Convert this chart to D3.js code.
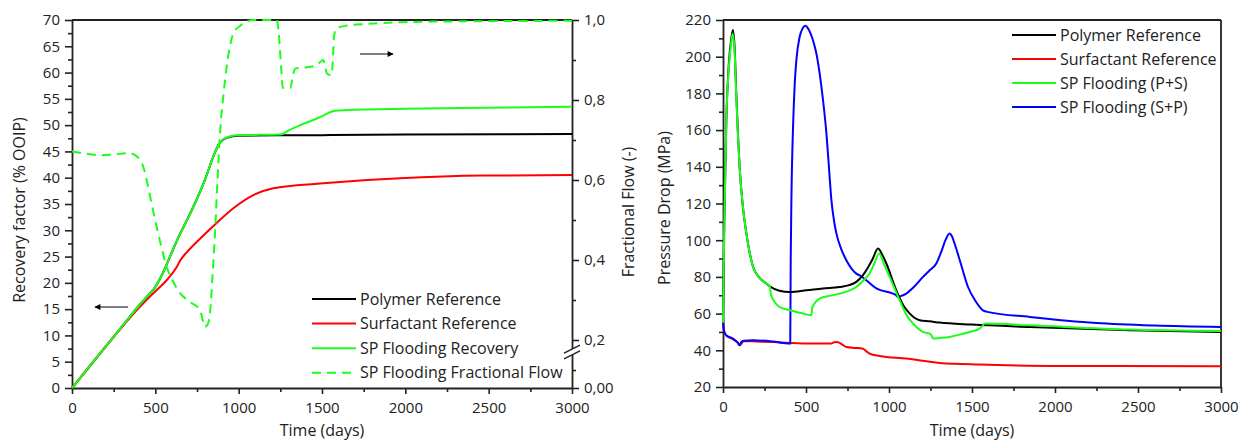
<!DOCTYPE html>
<html><head><meta charset="utf-8">
<script src="https://cdn.jsdelivr.net/npm/d3@7"></script>
<style>
body{margin:0;background:#fff;}
text{font-family:"Open Sans",sans-serif;fill:#222;}
</style></head>
<body><svg id="c" width="1239" height="442"></svg>
<script>
// ---------- DATA ----------
const xTicks = [0,500,1000,1500,2000,2500,3000];
const recTicks = [0,5,10,15,20,25,30,35,40,45,50,55,60,65,70];
const ffTicks = [0.2,0.4,0.6,0.8,1.0];
const ffTickLabels = ["0,2","0,4","0,6","0,8","1,0"];
const ffZeroLabel = "0,00";
const dpTicks = [20,40,60,80,100,120,140,160,180,200,220];

const leftLegend = ["Polymer Reference","Surfactant Reference","SP Flooding Recovery","SP Flooding Fractional Flow"];
const rightLegend = ["Polymer Reference","Surfactant Reference","SP Flooding (P+S)","SP Flooding (S+P)"];

// Recovery factor (% OOIP) vs days
const polymerRecovery = [[0,0],[100,3.9],[200,7.8],[300,11.7],[400,15.6],[450,17.4],[500,19.2],[550,22.2],[600,25.9],[650,29.4],[700,32.6],[750,36],[800,39.8],[850,44.2],[880,46.3],[910,47.3],[950,47.8],[1000,48.0],[1500,48.1],[2000,48.2],[3000,48.3]];
const surfactantRecovery = [[0,0],[100,3.9],[200,7.8],[300,11.6],[400,15.2],[500,18.4],[568,20.5],[628,23.0],[650,24.3],[688,25.8],[768,28.4],[868,31.4],[968,34.2],[1088,36.7],[1208,38.0],[1488,38.9],[1568,39.1],[1968,39.9],[2468,40.4],[3000,40.5]];
const spRecovery = [[0,0],[100,3.9],[200,7.8],[300,11.7],[400,15.6],[450,17.4],[500,19.2],[550,22.2],[600,25.9],[650,29.4],[700,32.6],[750,36],[800,39.8],[850,44.2],[880,46.3],[910,47.3],[950,47.9],[1000,48.1],[1250,48.2],[1300,49.0],[1370,50.0],[1450,51.0],[1500,51.7],[1570,52.7],[1600,52.8],[2000,53.1],[2500,53.3],[3000,53.5]];
// Fractional flow (-) vs days
const spFracFlow = [[0,0.671],[100,0.665],[168,0.662],[250,0.664],[348,0.667],[380,0.662],[408,0.65],[430,0.63],[448,0.60],[478,0.54],[508,0.483],[538,0.43],[568,0.383],[608,0.345],[648,0.317],[708,0.295],[768,0.275],[798,0.233],[815,0.24],[828,0.267],[843,0.36],[858,0.467],[873,0.6],[888,0.717],[908,0.81],[928,0.883],[948,0.935],[968,0.967],[1008,0.985],[1048,0.996],[1088,1.0],[1228,1.0],[1240,0.97],[1255,0.88],[1265,0.83],[1310,0.83],[1325,0.86],[1340,0.879],[1400,0.881],[1468,0.887],[1508,0.9],[1520,0.88],[1530,0.866],[1558,0.862],[1565,0.9],[1572,0.96],[1590,0.98],[1650,0.986],[1768,0.99],[2168,0.996],[3000,0.998]];

// Pressure drop (MPa) vs days
const polymerDP = [[0,55],[8,110],[20,165],[35,196],[50,210],[60,214.5],[70,205],[80,180],[90,158],[100,140],[120,118],[141,103.7],[161,93],[181,85.5],[220,79.5],[261,76.4],[281,74.9],[340,72.5],[402,71.8],[502,72.7],[602,73.7],[703,74.5],[760,75.5],[803,77.3],[840,80.5],[863,83.6],[900,89.5],[934,95.5],[960,92],[984,87.3],[1044,72.7],[1090,64],[1125,60],[1185,56.4],[1245,55.8],[1305,55.1],[1500,54],[1848,52.7],[2450,50.9],[3000,50.0]];
const surfactantDP = [[0,56],[5,51],[20,48],[60,46],[90,44],[100,42.7],[110,43.5],[125,45],[200,44.8],[301,44.5],[502,43.7],[653,43.7],[665,44.3],[683,44.5],[700,44.2],[720,43],[743,41.8],[800,41.3],[843,40.9],[870,39],[883,38.2],[944,36.9],[1104,35.5],[1305,33.1],[1546,32.2],[2048,31.5],[3000,31.3]];
const spPSDP = [[0,55],[8,110],[20,165],[35,194],[50,208],[58,212.5],[70,203],[80,178],[90,157],[100,140],[120,118],[141,103.7],[161,93],[181,85.5],[220,79.5],[261,76.4],[281,74.9],[290,70],[310,66.5],[341,63.6],[402,61.8],[470,60.3],[532,59.1],[537,63],[560,66.5],[582,68.2],[650,69.8],[703,70.9],[760,72.5],[803,74.5],[850,78.5],[883,81.8],[915,88],[940,92.7],[970,87],[1004,80],[1064,67.3],[1110,58.5],[1145,54.6],[1205,50],[1245,49.1],[1258,47.8],[1265,46.4],[1305,46.7],[1365,47.3],[1420,48.4],[1486,50],[1540,51.5],[1557,52.7],[1577,54.6],[1848,53.6],[2450,51.3],[3000,50.5]];
const spSPDP = [[0,58],[5,51],[20,48],[60,46.4],[90,44],[100,42.8],[110,44.5],[125,45.2],[181,45.5],[300,44.8],[402,43.7],[405,43.7],[408,90],[412,121.8],[422,161.8],[432,185],[442,198.2],[462,211],[480,215.5],[496,216.8],[515,215],[542,209],[562,202],[582,191],[603,176],[623,158.2],[638,140],[653,121.8],[668,111],[683,103.7],[713,95],[743,89.1],[803,81.8],[830,80.5],[863,78.2],[924,73.7],[1024,70.9],[1040,70.2],[1054,69.1],[1070,69.5],[1104,70.9],[1150,74.5],[1205,80],[1245,83.6],[1285,87.3],[1320,95],[1340,100],[1365,103.7],[1380,102],[1395,98.2],[1430,88],[1476,74.5],[1520,67],[1566,61.8],[1600,60.8],[1848,58.2],[2249,54.9],[2600,53.5],[3000,52.7]];

// ---------- DRAW ----------
const svg = d3.select("#c");
const AX = "#222";
const C = {black:"#000000", red:"#ff0000", green:"#1aff1a", blue:"#0000ff"};
const TF = 15;   // tick font size
const LF = 16;   // legend/title font size

function styleAxis(g){
  g.attr("font-size",TF).attr("font-family","Open Sans");
  g.selectAll(".domain").attr("stroke",AX).attr("stroke-width",1.8);
  g.selectAll(".tick line").attr("stroke",AX).attr("stroke-width",1.6);
  g.selectAll("text").attr("font-size",TF).attr("fill","#222");
}

// ===== LEFT CHART =====
const xL = d3.scaleLinear().domain([0,3000]).range([72,572]);
const yL = d3.scaleLinear().domain([0,70]).range([388,20]);
const yF = d3.scaleLinear().domain([0.08,1.0]).range([388,20]);

const L = svg.append("g");
L.append("line").attr("x1",xL(0)).attr("x2",xL(3000)).attr("y1",yL(70)).attr("y2",yL(70)).attr("stroke",AX).attr("stroke-width",1.8);

L.append("g").attr("transform",`translate(${xL(0)},0)`)
 .call(d3.axisLeft(yL).tickValues(d3.range(2.5,70,5)).tickSize(4).tickFormat("")).call(styleAxis).select(".domain").remove();
L.append("g").attr("transform",`translate(0,${yL(0)})`)
 .call(d3.axisBottom(xL).tickValues(d3.range(250,3000,500)).tickSize(4).tickFormat("")).call(styleAxis).select(".domain").remove();
L.append("g").attr("transform",`translate(${xL(3000)},0)`)
 .call(d3.axisRight(yF).tickValues([0.125,0.3,0.5,0.7,0.9]).tickSize(4).tickFormat("")).call(styleAxis).select(".domain").remove();

L.append("g").attr("transform",`translate(${xL(0)},0)`)
 .call(d3.axisLeft(yL).tickValues(recTicks).tickSize(7).tickPadding(5).tickSizeOuter(0).tickFormat(d3.format("d"))).call(styleAxis);
L.append("g").attr("transform",`translate(0,${yL(0)})`)
 .call(d3.axisBottom(xL).tickValues(xTicks).tickSize(6).tickPadding(8).tickSizeOuter(0).tickFormat(d3.format("d"))).call(styleAxis);
L.append("g").attr("transform",`translate(${xL(3000)},0)`)
 .call(d3.axisRight(yF).tickValues([0.08].concat(ffTicks)).tickSize(7).tickPadding(5).tickSizeOuter(0)
   .tickFormat((d)=> d===0.08 ? ffZeroLabel : ffTickLabels[ffTicks.indexOf(d)])).call(styleAxis);

// axis break
{
  const bx = xL(3000), by = yF(0.17);
  L.append("rect").attr("x",bx-3).attr("y",by-3).attr("width",6).attr("height",6).attr("fill","#fff");
  [-2.8,2.8].forEach(o=>{
    L.append("line").attr("x1",bx-8).attr("x2",bx+8).attr("y1",by+o+4).attr("y2",by+o-4).attr("stroke",AX).attr("stroke-width",1.5);
  });
}

const lineL = d3.line().x(d=>xL(d[0])).y(d=>yL(d[1])).curve(d3.curveMonotoneX);
const lineF = d3.line().x(d=>xL(d[0])).y(d=>yF(d[1])).curve(d3.curveMonotoneX);
L.append("path").datum(polymerRecovery).attr("d",lineL).attr("fill","none").attr("stroke",C.black).attr("stroke-width",2);
L.append("path").datum(surfactantRecovery).attr("d",lineL).attr("fill","none").attr("stroke",C.red).attr("stroke-width",2);
L.append("path").datum(spRecovery).attr("d",lineL).attr("fill","none").attr("stroke",C.green).attr("stroke-width",2);
L.append("path").datum(spFracFlow).attr("d",lineF).attr("fill","none").attr("stroke",C.green).attr("stroke-width",2).attr("stroke-dasharray","9,6");

// arrows
svg.append("defs").append("marker").attr("id","ah").attr("viewBox","0 0 10 10").attr("refX",9).attr("refY",5)
  .attr("markerWidth",9).attr("markerHeight",6).attr("orient","auto").attr("markerUnits","userSpaceOnUse")
  .append("path").attr("d","M0,0 L10,5 L0,10 z").attr("fill","#000");
L.append("line").attr("x1",xL(336)).attr("x2",xL(138)).attr("y1",yL(15.4)).attr("y2",yL(15.4)).attr("stroke","#000").attr("stroke-width",1).attr("marker-end","url(#ah)");
L.append("line").attr("x1",xL(1728)).attr("x2",xL(1926)).attr("y1",yF(0.915)).attr("y2",yF(0.915)).attr("stroke","#000").attr("stroke-width",1).attr("marker-end","url(#ah)");

// legend
{
  const cols = [C.black,C.red,C.green,C.green];
  const dash = [null,null,null,"9,6"];
  leftLegend.forEach((t,i)=>{
    const y = 299 + i*24.6;
    L.append("line").attr("x1",312).attr("x2",356).attr("y1",y).attr("y2",y).attr("stroke",cols[i]).attr("stroke-width",2).attr("stroke-dasharray",dash[i]);
    L.append("text").attr("x",360).attr("y",y).attr("dy","0.35em").attr("font-size",LF).text(t);
  });
}
L.append("text").attr("x",322).attr("y",436).attr("text-anchor","middle").attr("font-size",LF).text("Time (days)");
L.append("text").attr("transform","translate(25,210) rotate(-90)").attr("text-anchor","middle").attr("font-size",LF).text("Recovery factor (% OOIP)");
L.append("text").attr("transform","translate(634,212) rotate(-90)").attr("text-anchor","middle").attr("font-size",LF).text("Fractional Flow (-)");

// ===== RIGHT CHART =====
const xR = d3.scaleLinear().domain([0,3000]).range([723,1221]);
const yR = d3.scaleLinear().domain([20,220]).range([387,20]);
const R = svg.append("g");
R.append("line").attr("x1",xR(0)).attr("x2",xR(3000)).attr("y1",yR(220)).attr("y2",yR(220)).attr("stroke",AX).attr("stroke-width",1.8);
R.append("line").attr("x1",xR(3000)).attr("x2",xR(3000)).attr("y1",yR(220)).attr("y2",yR(20)).attr("stroke",AX).attr("stroke-width",1.8);
R.append("g").attr("transform",`translate(${xR(0)},0)`)
 .call(d3.axisLeft(yR).tickValues(d3.range(30,220,20)).tickSize(4).tickFormat("")).call(styleAxis).select(".domain").remove();
R.append("g").attr("transform",`translate(0,${yR(20)})`)
 .call(d3.axisBottom(xR).tickValues(d3.range(250,3000,500)).tickSize(4).tickFormat("")).call(styleAxis).select(".domain").remove();
R.append("g").attr("transform",`translate(${xR(0)},0)`)
 .call(d3.axisLeft(yR).tickValues(dpTicks).tickSize(7).tickPadding(5).tickSizeOuter(0).tickFormat(d3.format("d"))).call(styleAxis);
R.append("g").attr("transform",`translate(0,${yR(20)})`)
 .call(d3.axisBottom(xR).tickValues(xTicks).tickSize(6).tickPadding(8).tickSizeOuter(0).tickFormat(d3.format("d"))).call(styleAxis);

const lineR = d3.line().x(d=>xR(d[0])).y(d=>yR(d[1])).curve(d3.curveMonotoneX);
R.append("path").datum(surfactantDP).attr("d",lineR).attr("fill","none").attr("stroke",C.red).attr("stroke-width",2);
R.append("path").datum(spSPDP).attr("d",lineR).attr("fill","none").attr("stroke",C.blue).attr("stroke-width",2);
R.append("path").datum(polymerDP).attr("d",lineR).attr("fill","none").attr("stroke",C.black).attr("stroke-width",2);
R.append("path").datum(spPSDP).attr("d",lineR).attr("fill","none").attr("stroke",C.green).attr("stroke-width",2);

{
  const cols = [C.black,C.red,C.green,C.blue];
  rightLegend.forEach((t,i)=>{
    const y = 35 + i*24;
    R.append("line").attr("x1",1012).attr("x2",1056).attr("y1",y).attr("y2",y).attr("stroke",cols[i]).attr("stroke-width",2);
    R.append("text").attr("x",1060).attr("y",y).attr("dy","0.35em").attr("font-size",LF).text(t);
  });
}
R.append("text").attr("x",972).attr("y",436).attr("text-anchor","middle").attr("font-size",LF).text("Time (days)");
R.append("text").attr("transform","translate(670,208) rotate(-90)").attr("text-anchor","middle").attr("font-size",LF).text("Pressure Drop (MPa)");
</script></body></html>
